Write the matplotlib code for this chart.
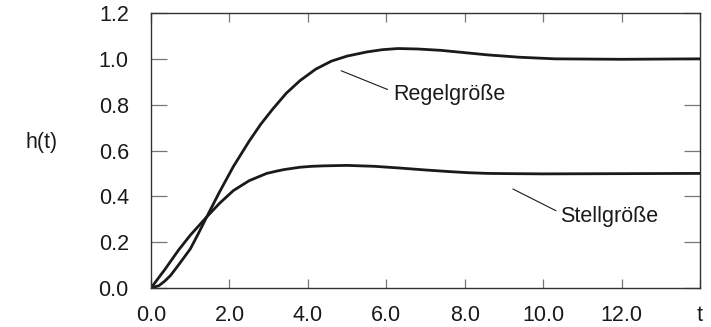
import matplotlib
matplotlib.use("Agg")
import matplotlib.pyplot as plt

plt.rcParams['font.family'] = ['Liberation Sans', 'DejaVu Sans']

# Regelgröße (controlled variable)
regel_t = [0, 0.2, 0.35, 0.5, 0.7, 1.0, 1.2, 1.42, 1.75, 2.1, 2.5, 2.8, 3.1,
           3.45, 3.8, 4.2, 4.6, 5.0, 5.5, 5.9, 6.3, 6.8, 7.4, 8.0, 8.6, 9.4,
           10.3, 12.0, 14.0]
regel_h = [0, 0.01, 0.03, 0.055, 0.10, 0.17, 0.235, 0.31, 0.42, 0.53, 0.64,
           0.715, 0.78, 0.85, 0.905, 0.955, 0.99, 1.012, 1.03, 1.04, 1.045,
           1.043, 1.037, 1.027, 1.017, 1.007, 1.0, 0.998, 1.0]

# Stellgröße (manipulated variable)
stell_t = [0, 0.2, 0.35, 0.7, 1.0, 1.42, 1.75, 2.1, 2.5, 2.95, 3.2, 3.4, 3.8,
           4.1, 4.4, 5.0, 5.7, 6.3, 7.0, 7.6, 8.1, 8.6, 9.2, 10.0, 12.0, 14.0]
stell_h = [0, 0.046, 0.08, 0.165, 0.23, 0.31, 0.37, 0.425, 0.468, 0.50, 0.51,
           0.517, 0.527, 0.531, 0.533, 0.535, 0.531, 0.524, 0.515, 0.508,
           0.503, 0.50, 0.499, 0.498, 0.499, 0.5]

x_ticks = [0, 2, 4, 6, 8, 10, 12, 14]
x_labels = ['0.0', '2.0', '4.0', '6.0', '8.0', '10.0', '12.0', 't']
y_ticks = [0, 0.2, 0.4, 0.6, 0.8, 1.0, 1.2]
y_labels = ['0.0', '0.2', '0.4', '0.6', '0.8', '1.0', '1.2']

fig = plt.figure(figsize=(7.11, 3.27), dpi=100)
ax = fig.add_axes([0.2124, 0.1193, 0.7721, 0.8409])

ax.plot(regel_t, regel_h, color='#1a1a1a', lw=2.0, solid_capstyle='round',
        solid_joinstyle='round')
ax.plot(stell_t, stell_h, color='#1a1a1a', lw=2.0, solid_capstyle='round',
        solid_joinstyle='round')

ax.set_xlim(0, 14)
ax.set_ylim(0, 1.2)
ax.set_xticks(x_ticks)
ax.set_xticklabels(x_labels)
ax.set_yticks(y_ticks)
ax.set_yticklabels(y_labels)

ax.tick_params(axis='x', direction='in', length=6.5, width=0.9, color='#777777',
               top=True, bottom=True, labelsize=15.5, pad=12, labelcolor='#1a1a1a')
ax.tick_params(axis='y', direction='in', length=11.5, width=0.9, color='#777777',
               left=True, right=True, labelsize=15.5, pad=16, labelcolor='#1a1a1a')
for s in ax.spines.values():
    s.set_color('#333333')
    s.set_linewidth(1.0)

ax.set_ylabel('h(t)', rotation=0, fontsize=15.5, color='#1a1a1a', va='center', ha='center')
ax.yaxis.set_label_coords(-0.2, 0.53)

ax.annotate('Regelgröße', xy=(4.85, 0.948), xytext=(6.17, 0.843),
            fontsize=15.5, color='#1a1a1a', va='center', ha='left',
            arrowprops=dict(arrowstyle='-', color='#1a1a1a', lw=0.8,
                            shrinkA=2, shrinkB=0, relpos=(0, 0.65)))
ax.annotate('Stellgröße', xy=(9.23, 0.432), xytext=(10.43, 0.31),
            fontsize=15.5, color='#1a1a1a', va='center', ha='left',
            arrowprops=dict(arrowstyle='-', color='#1a1a1a', lw=0.8,
                            shrinkA=1, shrinkB=0, relpos=(0, 0.7)))

plt.savefig('out.png', dpi=100)
